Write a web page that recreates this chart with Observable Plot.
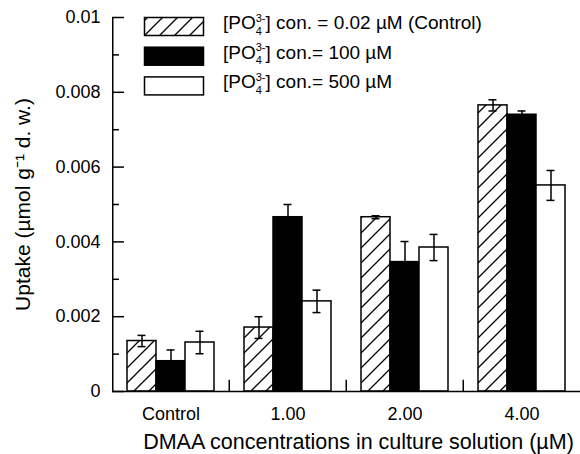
<!DOCTYPE html>
<html><head><meta charset="utf-8">
<script src="https://cdn.jsdelivr.net/npm/d3@7"></script>
<script src="https://cdn.jsdelivr.net/npm/@observablehq/plot@0.6"></script>
<style>
body{margin:0;background:#fff;}
#wrap{position:relative;width:580px;height:454px;font-family:"Liberation Sans",Arial,Helvetica,sans-serif;}
#legend{position:absolute;left:0;top:0;pointer-events:none;}
</style></head><body>
<div id="wrap"></div>
<script>
// ---- data ----
const groups = ["Control", "1.00", "2.00", "4.00"];
const seriesKeys = ["0.02", "100", "500"];
const seriesFills = ["url(#hatch)", "black", "white"];
const legendTail = ["] con. = 0.02 \u00b5M (Control)", "] con.= 100 \u00b5M", "] con.= 500 \u00b5M"];

const uptakeCtrl = [0.00135, 0.00171, 0.00466, 0.00765];
const errCtrl    = [0.00015, 0.00029, 0.00004, 0.00015];
const uptake100  = [0.00081, 0.00466, 0.00346, 0.00740];
const err100     = [0.00030, 0.00034, 0.00055, 0.00010];
const uptake500  = [0.00131, 0.00241, 0.00385, 0.00551];
const err500     = [0.00030, 0.00030, 0.00035, 0.00040];

const yMajor = [0, 0.002, 0.004, 0.006, 0.008, 0.01];
const yMajorLabels = ["0", "0.002", "0.004", "0.006", "0.008", "0.01"];
const yMinor = [0.001, 0.003, 0.005, 0.007, 0.009];

const xTitle = "DMAA concentrations in culture solution (\u00b5M)";
const yTitle = "Uptake (\u00b5mol g\u207b\u00b9 d. w.)";

// ---- table ----
const vals = [uptakeCtrl, uptake100, uptake500];
const errs = [errCtrl, err100, err500];
const rows = [];
seriesKeys.forEach((s, j) => groups.forEach((g, i) =>
  rows.push({group: g, series: s, value: vals[j][i], err: errs[j][i]})));

const wrap = document.getElementById("wrap");

// pattern defs + legend overlay
const leg = d3.select(wrap).append("svg").attr("id", "legend")
  .attr("width", 580).attr("height", 110);
const pat = leg.append("defs").append("pattern").attr("id", "hatch")
  .attr("patternUnits", "userSpaceOnUse").attr("width", 15).attr("height", 15);
pat.append("rect").attr("width", 15).attr("height", 15).attr("fill", "white");
pat.append("path").attr("d", "M-3.75,3.75L3.75,-3.75M0,15L15,0M11.25,18.75L18.75,11.25")
  .attr("stroke", "black").attr("stroke-width", 1.3);

const bw = (580 - 112) / groups.length / 4;

const chart = Plot.plot({
  width: 580, height: 454,
  marginLeft: 112, marginRight: 0, marginTop: 17, marginBottom: 63,
  style: {fontFamily: '"Liberation Sans", Arial, Helvetica, sans-serif', fontSize: "18px", color: "black", background: "white", overflow: "visible"},
  fx: {domain: groups, padding: 0},
  x: {domain: seriesKeys, paddingInner: 0, paddingOuter: 0.5, axis: null},
  y: {domain: [0, 0.01], axis: null},
  color: {domain: seriesKeys, range: seriesFills},
  marks: [
    Plot.barY(rows, {fx: "group", x: "series", y: "value", fill: "series", stroke: "black", strokeWidth: 1.5}),
    Plot.ruleX(rows, {fx: "group", x: "series", y1: d => d.value - d.err, y2: d => d.value + d.err, strokeWidth: 1.5}),
    Plot.tickY(rows, {fx: "group", x: "series", y: d => d.value + d.err, insetLeft: 10.5, insetRight: 10.5, strokeWidth: 1.5}),
    Plot.tickY(rows, {fx: "group", x: "series", y: d => d.value - d.err, insetLeft: 10.5, insetRight: 10.5, strokeWidth: 1.5}),
    Plot.ruleY([0], {strokeWidth: 1.5}),
    Plot.ruleX([groups[0]], {fx: d => d, x: () => seriesKeys[0], dx: -bw, y1: 0, y2: 0.01, strokeWidth: 1.5}),
    Plot.ruleX(groups.slice(0, 3), {fx: d => d, x: () => seriesKeys[2], dx: bw, y1: 0, y2: 0.0003, strokeWidth: 1.5}),
    Plot.axisY(yMajor, {tickSize: 0, tickPadding: 12, tickFormat: d => yMajorLabels[yMajor.indexOf(d)], label: null, fontSize: 18}),
    Plot.axisY(yMajor, {tickSize: -12, fill: "none", label: null, strokeWidth: 1.5}),
    Plot.axisY(yMinor, {tickSize: -7, fill: "none", label: null, strokeWidth: 1.5}),
    Plot.axisY([], {tickSize: 0, label: yTitle, labelAnchor: "center", labelArrow: "none", labelOffset: 97, fontSize: 21}),
    Plot.axisFx({anchor: "bottom", tickSize: 0, tickPadding: 16, label: null, fontSize: 18}),
    Plot.text([xTitle], {fx: () => groups[1], frameAnchor: "bottom-right", dx: 12, dy: 57, textAnchor: "middle", lineAnchor: "bottom", fontSize: 21.5})
  ]
});
wrap.insertBefore(chart, wrap.firstChild);

// legend rows
seriesKeys.forEach((s, i) => {
  const y0 = 17.5 + i * 29.7;
  leg.append("rect").attr("x", 144.5).attr("y", y0).attr("width", 59).attr("height", 18)
    .attr("fill", seriesFills[i]).attr("stroke", "black").attr("stroke-width", 1.5);
  const t = leg.append("text").attr("x", 223).attr("y", y0 + 11.5)
    .attr("font-size", 19).attr("fill", "black")
    .style("font-family", '"Liberation Sans", Arial, Helvetica, sans-serif');
  t.append("tspan").text("[PO");
  t.append("tspan").attr("font-size", 11).attr("dy", 5.5).text("4");
  t.append("tspan").attr("font-size", 11).attr("dx", -6.1).attr("dy", -13).text("3-");
  t.append("tspan").attr("dy", 7.5).text(legendTail[i]);
});
</script>
</body></html>
